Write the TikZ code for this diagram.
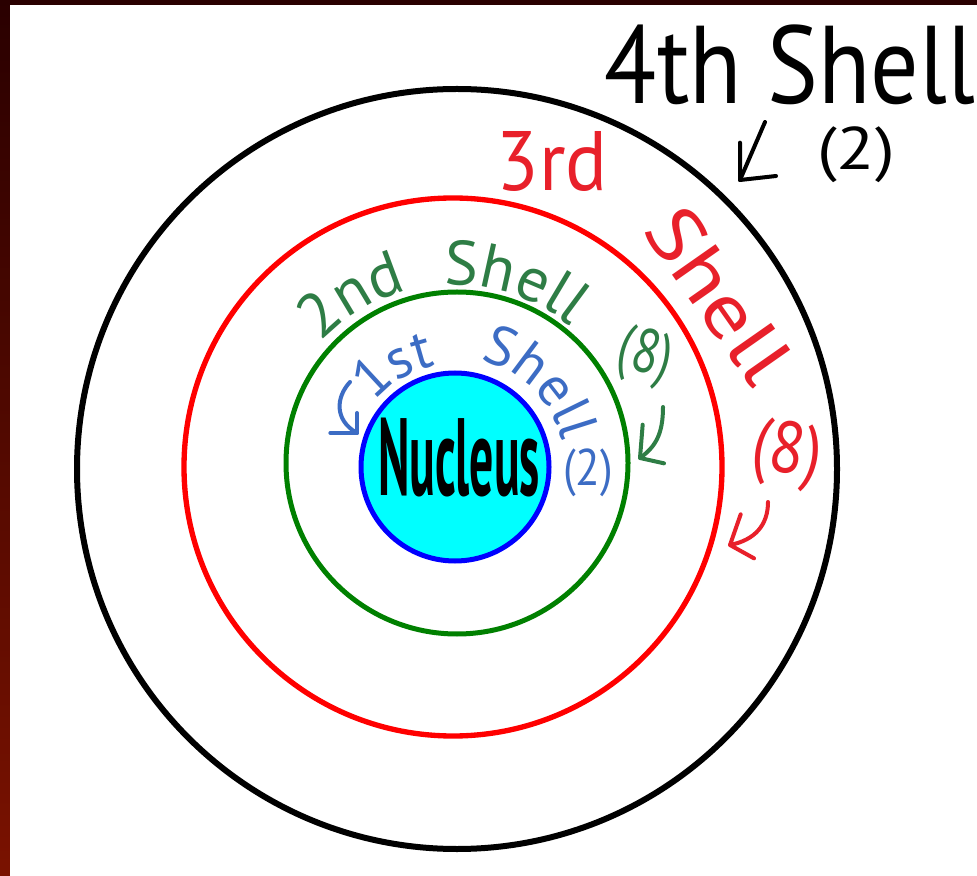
\documentclass[tikz,border=0pt]{standalone}
\usepackage{fontspec}
\setmainfont{PT Sans}
\usetikzlibrary{decorations.text}
\newdimen\pxu \pxu=0.75pt
\newcommand{\fitbox}[3]{\resizebox*{#1\pxu}{#2\pxu}{#3}}
\definecolor{bordA}{HTML}{2A0000}
\definecolor{bordB}{HTML}{7A1200}
\definecolor{redtxt}{HTML}{E8202A}
\definecolor{redcirc}{RGB}{255,0,0}
\definecolor{grncirc}{RGB}{0,128,0}
\definecolor{grntxt}{HTML}{2E7D45}
\definecolor{bluetxt}{HTML}{3C6CC4}
\definecolor{bluecirc}{RGB}{0,0,255}
\definecolor{aqua}{RGB}{0,255,255}
\newcommand{\gfont}{\fontsize{47}{48}\selectfont}
\newcommand{\bfontA}{\fontsize{42}{43}\selectfont}
\begin{document}
\begin{tikzpicture}[x=0.75pt,y=0.75pt,
  shellc/.style={circle, minimum size=#1*0.75pt, inner sep=0pt, outer sep=0pt},
  lbl/.style={inner sep=0pt, outer sep=0pt},
  hand/.style={line width=3pt, line cap=round, line join=round}]
\useasboundingbox (0,0) rectangle (977,875);
% background border
\shade[top color=bordA, bottom color=bordB] (0,0) rectangle (977,875);
\fill[white] (10,-6) rectangle (983,870);
% shells
\node[shellc=760, draw=black, line width=4.5pt] (s4) at (457,406) {};
\node[shellc=538, draw=redcirc, line width=4pt] (s3) at (453,408) {};
\node[shellc=342, draw=grncirc, line width=3.75pt] (s2) at (457,412) {};
\node[shellc=188, draw=bluecirc, fill=aqua, line width=3.75pt] (nuc) at (455,408) {};
\coordinate (c) at (455,408);
% nucleus label
\node[lbl] (nuclbl) at (459,417) {\fitbox{162}{79}{\bfseries Nucleus}};
% 4th shell
\node[lbl] (t4) at (790,810) {\fitbox{370}{80}{4th Shell}};
\node[lbl] (n4) at (856,720) {\fitbox{78}{56}{(2)}};
\coordinate (a4s) at (765,753);
\coordinate (a4t) at (740,695);
\draw[hand, black] (a4s) -- (a4t);
\draw[hand, black] ([yshift=28]a4t) -- (a4t) -- ([xshift=27,yshift=3]a4t);
% 3rd shell
\node[lbl, text=redtxt] (t3a) at (552,713) {\fitbox{111}{60}{3rd}};
\node[lbl, text=redtxt, rotate=-55] (t3b) at (719,580) {\fitbox{195}{55}{Shell}};
\node[lbl, text=redtxt, rotate=-10] (n3) at (787,420) {\fitbox{70}{68}{(8)}};
\coordinate (a3s) at (768,373);
\coordinate (a3t) at (730,330);
\draw[hand, redtxt] (a3s) .. controls (768,350) and (755,335) .. (a3t);
\draw[hand, redtxt] ([xshift=8,yshift=23]a3t) -- (a3t) -- ([xshift=18,yshift=-10]a3t);
% 2nd shell
\path[decorate, decoration={text along path, text={|\gfont|2nd}, text align=center, text color=grntxt}]
  ([shift={(c)}]150:137.25pt) arc[start angle=150, end angle=92, radius=137.25pt];
\path[decorate, decoration={text along path, text={|\gfont|Shell}, text align=center, text color=grntxt}]
  ([shift={(c)}]100:136.5pt) arc[start angle=100, end angle=44, radius=136.5pt];
\node[lbl, text=grntxt, rotate=-15] (n2) at (645,518) {\fitbox{54}{58}{(8)}};
\coordinate (a2s) at (663,468);
\coordinate (a2t) at (640,417);
\draw[hand, grntxt] (a2s) .. controls (663,440) and (655,428) .. (a2t);
\draw[hand, grntxt] ([xshift=2,yshift=25]a2t) -- (a2t) -- ([xshift=18,yshift=-4]a2t);
% 1st shell
\path[decorate, decoration={text along path, text={|\bfontA|1st}, text align=center, text color=bluetxt}]
  ([shift={(c)}]150:77.25pt) arc[start angle=150, end angle=92, radius=77.25pt];
\path[decorate, decoration={text along path, text={|\bfontA|Shell}, text align=center, text color=bluetxt}]
  ([shift={(c)}]85:82.5pt) arc[start angle=85, end angle=5, radius=82.5pt];
\node[lbl, text=bluetxt] (n1) at (588,402) {\fitbox{50}{48}{(2)}};
\coordinate (a1s) at (350,493);
\coordinate (a1t) at (357,442);
\draw[hand, bluetxt] (a1s) .. controls (336,478) and (334,455) .. (a1t);
\draw[hand, bluetxt] ([xshift=-20]a1t) -- (a1t) -- ([yshift=15]a1t);
\end{tikzpicture}
\end{document}
